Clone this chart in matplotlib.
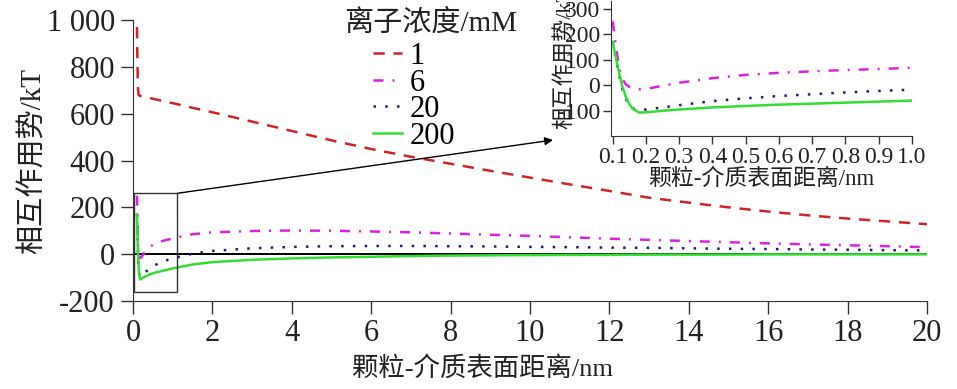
import numpy as np
import matplotlib
matplotlib.use('Agg')
import matplotlib.pyplot as plt
from matplotlib.patches import Rectangle

plt.rcParams['font.family'] = ['Liberation Serif', 'Noto Sans CJK SC']
plt.rcParams['axes.unicode_minus'] = False

# 颗粒-介质表面距离 (nm)
dist = [0.1, 0.11, 0.12, 0.13, 0.14, 0.15, 0.16, 0.18, 0.2, 0.25, 0.3, 0.4, 0.5,
        0.6, 0.7, 0.8, 0.9, 1.0, 1.5, 2, 3, 4, 5, 6, 7, 8, 9, 10, 11, 12, 13,
        14, 15, 16, 17, 18, 19, 20]

# 相互作用势 (kT)，按离子浓度
v_1 = [970, 840, 740, 695, 682, 679, 677, 676, 675, 673, 671, 667, 664,
       660, 656, 652, 648, 645, 625, 606, 566, 526, 486, 449, 416, 386, 356,
       327, 298, 270, 241, 220, 200, 182, 166, 152, 140, 128]
v_6 = [250, 150, 65, 22, 2, -7, -12, -16, -15, -3, 9, 27, 40,
       48, 54, 59, 63, 68, 85, 93, 99, 101, 100, 97, 93, 88, 83,
       78, 72, 66, 61, 56, 51, 46, 42, 38, 34, 30]
v_20 = [170, 100, 35, -20, -55, -80, -92, -97, -96, -88, -79, -63, -52,
        -43, -36, -29, -23, -18, 2, 14, 25, 31, 34, 35, 35, 34, 33,
        31, 30, 28, 27, 25, 23, 22, 20, 19, 17, 16]
v_200 = [170, 105, 45, -10, -48, -75, -93, -108, -107, -101, -96, -88, -82,
         -77, -73, -69, -65, -61, -44, -34, -24, -18, -14, -11, -8, -6, -5,
         -4, -3, -3, -2, -2, -2, -1, -1, -1, -1, -1]

labels = ['1', '6', '20', '200']
colors = ['#d42222', '#e020e0', '#1c1c80', '#33dd33']

y_ticks = [-200, 0, 200, 400, 600, 800, 1000]
y_ticklabels = ['-200', '0', '200', '400', '600', '800', '1 000']

W, H = 957, 389
fig = plt.figure(figsize=(W / 100, H / 100), dpi=100)

def px_rect(l, t, r, b):
    return [l / W, 1 - b / H, (r - l) / W, (b - t) / H]

# 主图
ax = fig.add_axes(px_rect(133, 20, 927, 301))
ax.axhline(0, color='black', lw=1.4, zorder=1)
l1, = ax.plot(dist, v_1, color=colors[0], lw=1.8, dashes=(4.5, 3.5))
l6, = ax.plot(dist, v_6, color=colors[1], lw=1.8, dashes=(4, 3.6, 0.8, 3.6))
l20, = ax.plot(dist, v_20, color=colors[2], lw=1.8, dashes=(1, 3.7))
l200, = ax.plot(dist, v_200, color=colors[3], lw=1.8)

ax.set_xlim(0, 20)
ax.set_ylim(-200, 1000)
ax.set_xticks(range(0, 21, 2))
ax.set_yticks(y_ticks)
ax.set_yticklabels(y_ticklabels)
for s in ['top', 'right']:
    ax.spines[s].set_visible(False)
for s in ['left', 'bottom']:
    ax.spines[s].set_color('#333333')
ax.tick_params(direction='out', length=9, width=1, colors='#333333',
               labelsize=22, labelcolor='#222222', pad=4)
ax.set_xlabel('颗粒-介质表面距离/nm', fontsize=19, color='#222222')
ax.xaxis.set_label_coords(0.44, -0.195)
ax.set_ylabel('相互作用势/kT', fontsize=21, color='#222222')
ax.yaxis.set_label_coords(-0.108, 0.5)

# 放大区域框和箭头
ax.add_patch(Rectangle((0.03, -160), 1.09, 420, fill=False,
                       edgecolor='#333333', lw=1, zorder=3))
ax.annotate('', xy=(553 / W, 1 - 140 / H), xycoords='figure fraction',
            xytext=(1.12, 260), textcoords='data',
            arrowprops=dict(arrowstyle='-|>', color='black', lw=1,
                            mutation_scale=12, shrinkA=0, shrinkB=0))

# 图例
fig.text(431 / W, 1 - 23 / H, '离子浓度/mM', fontsize=21, ha='center',
         va='center', color='#222222')
ax.legend([l1, l6, l20, l200], labels, loc='upper left',
          bbox_to_anchor=(373 / W, 1 - 42 / H), bbox_transform=fig.transFigure,
          frameon=False, fontsize=22, borderpad=0, borderaxespad=0,
          labelspacing=-0.08, handlelength=0.95, handletextpad=0.25)

# 插图
axi = fig.add_axes(px_rect(611, 1, 912, 136))
axi.plot(dist, v_6, color=colors[1], lw=1.8, dashes=(4, 3.6, 0.8, 3.6))
axi.plot(dist, v_20, color=colors[2], lw=1.8, dashes=(1, 3.7))
axi.plot(dist, v_200, color=colors[3], lw=1.8)
axi.set_xlim(0.095, 1.0)
axi.set_ylim(-200, 330)
axi.set_xticks(np.round(np.arange(0.1, 1.01, 0.1), 1))
axi.set_xticklabels(['%.1f' % v for v in np.arange(0.1, 1.01, 0.1)])
axi.set_yticks([-100, 0, 100, 200, 300])
for s in ['top', 'right']:
    axi.spines[s].set_visible(False)
for s in ['left', 'bottom']:
    axi.spines[s].set_color('#333333')
axi.tick_params(direction='out', length=6, width=1, colors='#333333',
                labelsize=17, labelcolor='#222222', pad=2)
axi.set_xlabel('颗粒-介质表面距离/nm', fontsize=16.5, color='#222222')
axi.xaxis.set_label_coords(0.5, -0.24)
axi.set_ylabel('相互作用势/kT', fontsize=16, color='#222222')
axi.yaxis.set_label_coords(-0.12, 0.58)
axi.patch.set_alpha(0)

fig.savefig('out.png', dpi=100)
